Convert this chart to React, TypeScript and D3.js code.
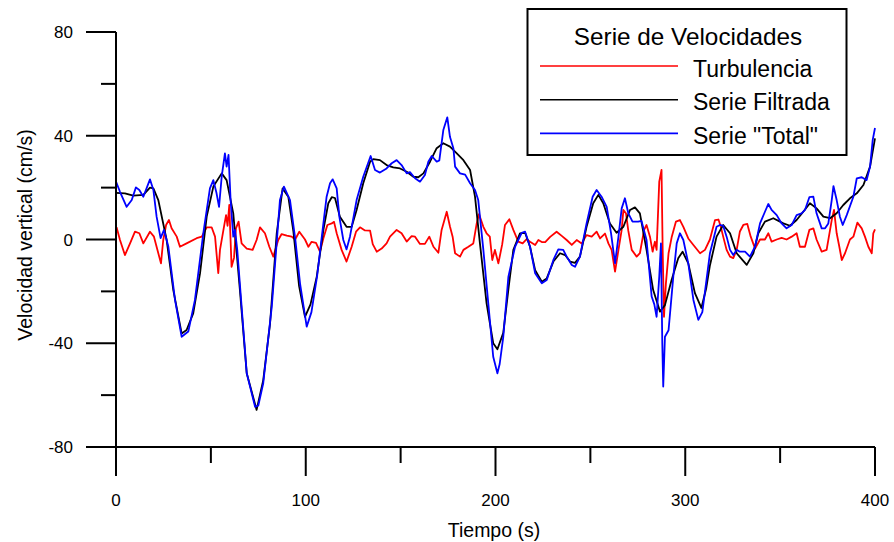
import React from "react";
import * as d3 from "d3";

// ---- data ----
const turbTime = [0.3, 2.1, 4.7, 7.4, 10, 12.3, 14.4, 17.9, 20, 22.3, 23.7, 24.9, 26.4, 27.9, 29.3, 32, 33.7, 37.2, 42.5, 45.2, 47.8, 50.4, 52.2, 53.9, 54.8, 56.9, 58, 58.8, 59.7, 60.9, 62.2, 63.2, 64.6, 66.2, 68.9, 72, 74.1, 75.9, 78.5, 80.8, 82.9, 85.5, 87.3, 90, 92.6, 94.4, 96.6, 99.6, 101.4, 103.1, 105.4, 107.5, 109.3, 111.4, 113.7, 114.9, 116.3, 118.9, 121.5, 124.2, 126.5, 128.6, 131.2, 133.9, 135.3, 137.4, 140, 142.6, 144.4, 147.9, 150.5, 153.2, 155.8, 157.6, 160.2, 162.8, 165.1, 167.3, 169.9, 171.6, 174.3, 176, 177.4, 178.7, 181.3, 183.1, 185.7, 188.3, 190.1, 191.3, 193.6, 195.3, 197, 198.3, 199.7, 201.5, 203.5, 205, 207.3, 209.4, 212, 214.3, 216.4, 218.2, 220.9, 222.6, 224.4, 226.2, 228.8, 232.2, 234.9, 237.5, 240.2, 242.8, 245.4, 248, 250.7, 253.3, 255.1, 257.7, 259.5, 261.2, 263, 264.8, 266.5, 267.4, 268.8, 270, 271.8, 274.4, 276.1, 278.3, 279.6, 281.4, 282.8, 284, 284.9, 286.3, 287.5, 288.1, 288.8, 289.8, 291.2, 292.9, 295.1, 297.2, 299, 301.6, 304.3, 307.8, 310.4, 313, 315.7, 317.5, 318.7, 320, 321.8, 323.6, 325.3, 327.1, 328.8, 330.6, 332.7, 334.5, 336.8, 339.4, 342, 343.8, 345.5, 348.2, 350.8, 353.4, 356.1, 358.7, 360.4, 363.1, 365.4, 367.5, 369.2, 371.9, 374.5, 377.2, 378.4, 379.8, 381.2, 382.5, 384.2, 386.8, 388.6, 390.7, 393, 394.7, 396.5, 398.3, 399.1, 400];
const turbValues = [4.7, -0.2, -6, -1.5, 3, 2.4, -1.5, 3, 1.1, -5.3, -9.2, -0.2, 5.6, 7.5, 4.3, 1.1, -2.8, -1.5, 0.5, 1.1, 4.7, 4.7, 1.1, -13, -4, 4.9, 9.4, 5.3, 13.3, -10.5, -7, 4.3, 6.9, -1.5, -3.5, -4, -0.2, 4.7, 2.4, -2.8, -6.6, -0.2, 2.1, 1.5, 1.1, 0, 3, 0, -2.8, -0.9, -1.3, -4.7, 0.5, 5.6, 6.2, 6.8, 2.4, -4, -8.5, -2.8, 3, 4.7, 3.5, 3.4, -1.8, -4.7, -3.5, -1.5, 1.1, 3.7, 2.4, -0.8, 1.3, 1.1, -1.7, -1.7, 1.1, -2.8, -5.1, 3.7, 10.7, 5, 1.1, -5.3, -6.6, -4, -2.8, -1.5, 6.2, 9.8, 4.9, 2.4, 1.1, -7.9, -4, -9.2, -2, 5.6, 7.8, 3.7, -0.8, -1.5, 0.1, -0.9, -2.1, -0.2, -1, -1, 1, 3, 1.4, -0.2, -2.1, -0.2, -1.5, 1.7, 1.1, 3, 0.4, 2.3, -1.5, -4, -12.4, -4, 3.7, 11.4, 10, 3.3, -4, -6.6, -5.3, 3.7, 5.6, 1.1, -4.7, -0.8, -4, 22.3, 26.8, -4, -29.8, -17, -5.3, 1.1, 6.9, 7.5, 4.9, 0.4, -2.1, -5.3, -4, 0, 7.5, 7.7, 5, 1.1, -4, -6.6, -7.2, -4, 3.1, 5.6, 6, 1.1, -3.5, 0, 0, 2.4, -0.8, 0, 0.6, 0, 1.1, 2.4, -2.8, -2.8, 3.7, 4.3, 0, -4.7, -4, 7.5, 11.4, 2.4, -2.8, -7.9, -5.3, 0, 1.1, 6.5, 4.3, 1.1, -2.8, -5.3, 2.4, 3.9];

const filtTime = [0, 4.7, 9.1, 14.4, 17.9, 19.7, 22.3, 26.7, 30.2, 34.6, 37.2, 40.7, 44.3, 47.8, 51.3, 55.7, 58.3, 61.8, 65.3, 68.9, 74.1, 77.6, 81.2, 84.7, 87.8, 90.8, 93.5, 96.5, 99.6, 102.5, 105.8, 109.3, 111.9, 113.7, 115.4, 118, 121.5, 124.2, 126.8, 130.3, 133.9, 135.6, 139.1, 142.6, 146.1, 149.7, 153.2, 156.7, 159.3, 162, 165.5, 169, 172.5, 176, 179.6, 183.1, 186.6, 189.2, 191.8, 195.3, 198.8, 201, 204.1, 207, 209.4, 212.9, 215.6, 218.2, 220.9, 224.4, 227, 230.5, 234, 236.7, 239.3, 241.9, 244.5, 248, 251.5, 254.2, 256.8, 260.3, 263.8, 267.4, 270.9, 273.5, 276.1, 279.6, 283.1, 286.7, 289.3, 292.8, 296.3, 298.6, 301.6, 305.1, 308.5, 311, 313, 316.5, 320, 323.6, 327.1, 332.4, 335.9, 338.5, 342, 346.4, 351.7, 355.2, 358.7, 362.2, 365.7, 369.2, 372.8, 376.3, 379.8, 383.3, 386.8, 390.4, 393.9, 397.4, 400];
const filtValues = [18, 17.8, 16.9, 17.2, 20, 19.7, 15.2, -0.2, -19.5, -36.2, -34.9, -28.5, -13, 8.8, 20.4, 25.5, 22.9, 10.1, -19.5, -51.6, -65.7, -54.2, -32.3, 2.4, 19.7, 16.5, 3, -18, -29.8, -25, -14.3, 3.7, 14, 16.3, 16, 8.8, 4.9, 4.9, 11.4, 21.7, 30, 31, 30.6, 28.7, 27.8, 27.4, 26.1, 24.2, 24, 25.5, 30, 35.2, 37.1, 35.8, 33.2, 30.6, 26.8, 16.5, -1.5, -24.6, -40, -42.3, -36, -18, -4, 2.4, 2.6, -2.8, -11.8, -16.3, -15, -8.5, -5.3, -6, -8.5, -9, -6.6, 4.9, 14, 17.2, 14, 6.2, 2.6, 4.9, 11.4, 12.4, 10.1, -4, -19.5, -27.8, -25.3, -15.6, -7.2, -4.7, -9.2, -20.7, -26.4, -19, -10, 1.1, 5.6, 2.4, -5.3, -9.8, -5.3, 2.4, 6.9, 8.2, 6.2, 5.3, 7.5, 10.7, 14, 12, 8.8, 8.2, 10.1, 13.3, 15.9, 17.8, 21, 28.1, 39];

const totalTime = [0, 2.1, 5.6, 8.3, 10.5, 12.3, 14.4, 17.9, 19.7, 21.4, 23.5, 25.3, 27.6, 31.1, 34.6, 38.1, 41.6, 46, 49.5, 51.3, 53, 54.3, 55.7, 57.4, 58.3, 59.3, 60.4, 61.8, 62.7, 63.9, 68.9, 73.3, 75, 77.6, 82.1, 86.4, 88.5, 91.7, 94.5, 97, 100.5, 103, 106, 109.3, 111, 112.8, 114.2, 116.3, 117.7, 119.8, 121.5, 123.3, 126.8, 130.3, 134.2, 136.5, 139.1, 142.6, 145.3, 147.9, 150.5, 153.2, 154.9, 157.6, 160.2, 162.8, 164.6, 166.4, 169, 170.4, 172.5, 174.6, 176, 177.8, 178.7, 181.3, 184, 186.6, 189.2, 190.9, 193.6, 196.2, 198.8, 201, 202.2, 204.1, 206.8, 210.3, 213.8, 215.6, 218.2, 220.9, 224.4, 227, 230.5, 233.1, 235.7, 237.5, 240.2, 241.9, 244.5, 248, 251.2, 253.3, 255.9, 258.6, 260.9, 263, 264.8, 266.5, 268.2, 270, 272.2, 275.2, 276.9, 279.6, 282.3, 283.7, 284.9, 286.3, 287.2, 287.9, 288.4, 289.3, 291.2, 293.7, 295.5, 297.2, 299, 301.6, 304.3, 306.9, 309, 313, 316.5, 318.3, 320, 321.8, 323.6, 325.3, 327.1, 328.8, 331.5, 334.1, 336.8, 339.4, 342, 343.8, 345.5, 348.2, 350.8, 353.4, 356.1, 358.7, 361.3, 363.1, 365.4, 367.5, 369.2, 371.9, 373.7, 375.4, 377.2, 378.1, 379.8, 381.5, 383, 385.1, 388.6, 390.4, 393, 395.6, 397.4, 398.8, 400];
const totalValues = [22.3, 18.4, 12.6, 15.2, 20.1, 19.1, 16.5, 23.2, 19.1, 8.8, 0.5, 3.7, -2.8, -23.3, -37.5, -35.5, -23.3, 2.4, 19.7, 22.9, 17.8, 12.6, 24.2, 33.2, 28.1, 32.6, 15.2, 1.1, 3.7, -4, -51.6, -64.5, -64, -55.4, -25.9, 15.2, 20.4, 15.2, 0, -17, -33.6, -28, -14, 6.2, 16.5, 21.7, 23.2, 19.7, 8.8, -0.2, -3.8, 1.1, 15.2, 24.2, 32.2, 26.8, 25.8, 27.4, 29.4, 30.6, 28.7, 25.5, 26, 23.6, 22.3, 24.9, 30, 32.2, 30, 30.5, 42.2, 47.1, 39.6, 35.2, 28.1, 25.5, 25, 21.7, 19.1, 15.2, -4, -24.6, -45.2, -51.6, -48, -37.5, -14.3, -2.8, 2.6, 3, -2.8, -13, -16.9, -15.6, -7.9, -3.8, -4, -6.6, -9.8, -10.5, -6.6, 6.2, 16.5, 19.1, 16.5, 12.6, 2.4, -9.2, 1.1, 12, 15.9, 10.1, 6.9, 6.9, 7.2, -0.2, -22, -25, -29.8, -14.3, -1.5, -40, -56.7, -37.5, -35, -14.3, -1.5, 2.4, -0.2, -9.2, -23.3, -31, -28, -5.3, 4.9, 5.6, 5.3, 1.1, -4, -6, -4, -4.7, -4.7, -6.6, -2.7, 6.2, 10.7, 13.7, 11.4, 9.4, 6.2, 4.3, 5.6, 9.4, 10.1, 11.4, 16.3, 16.5, 10.1, 4.3, 4.3, 6.2, 15.2, 20.6, 15.2, 8.8, 5.6, 9.4, 16.5, 23.6, 24, 22.9, 28.1, 38.4, 43];

const xMajorTicks = [0, 100, 200, 300, 400];
const xMinorTicks = [50, 150, 250, 350];
const yMajorTicks = [-80, -40, 0, 40, 80];
const yMinorTicks = [-60, -20, 20, 60];

const seriesNames = ["Turbulencia", "Serie Filtrada", 'Serie "Total"'];
const seriesColors = ["#ff0000", "#000000", "#0000ff"];
const legendTitle = "Serie de Velocidades";
const xTitle = "Tiempo (s)";
const yTitle = "Velocidad vertical (cm/s)";

const W = 894;
const H = 542;
const FONT = "'Liberation Sans', Arial, Helvetica, sans-serif";

export default function App() {
  const x = d3.scaleLinear().domain([0, 400]).range([116, 875]);
  const y = d3.scaleLinear().domain([-80, 80]).range([447, 32]);

  const series = [
    { t: turbTime, v: turbValues },
    { t: filtTime, v: filtValues },
    { t: totalTime, v: totalValues },
  ];

  const line = d3
    .line<[number, number]>()
    .x((d) => x(d[0]))
    .y((d) => y(d[1]));

  const majorLen = 29;
  const minorLen = 15;
  const x0 = x(0);
  const yBase = y(-80);

  return (
    <svg
      width={W}
      height={H}
      style={{ position: "absolute", left: 0, top: 0, background: "#fff" }}
      fontFamily={FONT}
    >
      <rect x={0} y={0} width={W} height={H} fill="#fff" />
      {/* data lines */}
      {series.map((s, i) => (
        <path
          key={i}
          d={line(s.t.map((t, j) => [t, s.v[j]] as [number, number])) || ""}
          fill="none"
          stroke={seriesColors[i]}
          strokeWidth={1.8}
          strokeLinejoin="round"
        />
      ))}

      {/* y axis */}
      <line x1={x0} x2={x0} y1={y(80)} y2={yBase} stroke="#000" strokeWidth={2} />
      {yMajorTicks.map((v) => (
        <g key={"ym" + v}>
          <line x1={x0 - 30} x2={x0} y1={y(v)} y2={y(v)} stroke="#000" strokeWidth={2} />
          <text x={73} y={y(v)} dy="0.36em" textAnchor="end" fontSize={17}>
            {v}
          </text>
        </g>
      ))}
      {yMinorTicks.map((v) => (
        <line key={"yn" + v} x1={x0 - minorLen} x2={x0} y1={y(v)} y2={y(v)} stroke="#000" strokeWidth={2} />
      ))}

      {/* x axis */}
      <line x1={x0} x2={x(400)} y1={yBase} y2={yBase} stroke="#000" strokeWidth={2} />
      {xMajorTicks.map((t) => (
        <g key={"xm" + t}>
          <line x1={x(t)} x2={x(t)} y1={yBase} y2={yBase + majorLen} stroke="#000" strokeWidth={2} />
          <text x={x(t)} y={506} textAnchor="middle" fontSize={17}>
            {t}
          </text>
        </g>
      ))}
      {xMinorTicks.map((t) => (
        <line key={"xn" + t} x1={x(t)} x2={x(t)} y1={yBase} y2={yBase + 16} stroke="#000" strokeWidth={2} />
      ))}

      {/* axis titles */}
      <text x={494} y={537} textAnchor="middle" fontSize={19.5}>
        {xTitle}
      </text>
      <text transform="translate(31.5,235) rotate(-90)" textAnchor="middle" fontSize={19.5}>
        {yTitle}
      </text>

      {/* legend */}
      <rect x={527.5} y={9} width={319} height={146} fill="#fff" stroke="#000" strokeWidth={2} />
      <text x={688} y={45} textAnchor="middle" fontSize={24.3}>
        {legendTitle}
      </text>
      {seriesNames.map((name, i) => (
        <g key={name}>
          <line
            x1={540}
            x2={678}
            y1={66 + i * 33.7}
            y2={66 + i * 33.7}
            stroke={seriesColors[i]}
            strokeWidth={1.6}
          />
          <text x={693} y={76.7 + i * 33.7} fontSize={23}>
            {name}
          </text>
        </g>
      ))}
    </svg>
  );
}
